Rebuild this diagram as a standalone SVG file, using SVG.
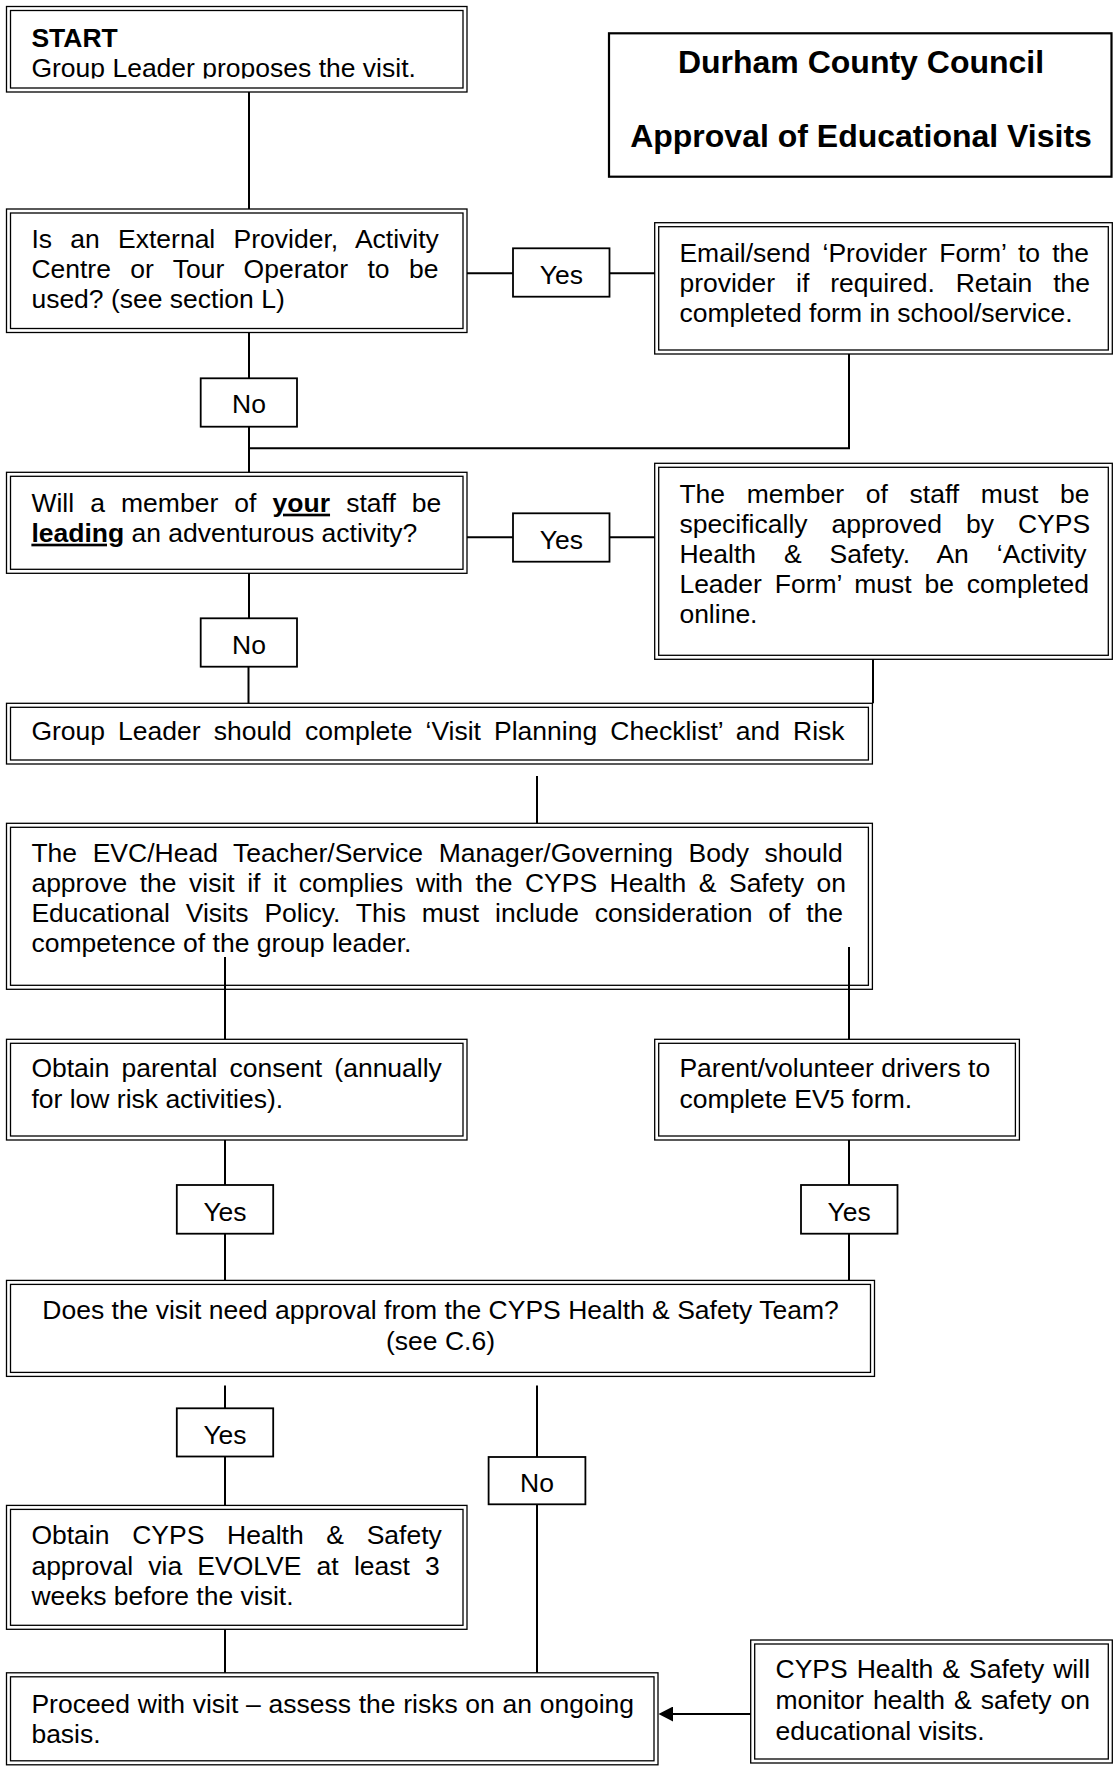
<svg xmlns="http://www.w3.org/2000/svg" width="1114" height="1768" viewBox="0 0 1114 1768">
<style>
  text { font-family: "Liberation Sans", Arial, sans-serif; font-size: 26.5px; fill: #000; }
  .b { font-weight: bold; }
  .bu { font-weight: bold; text-decoration: underline; }
  .t { font-weight: bold; font-size: 32px; text-anchor: middle; }
  .m { text-anchor: middle; }
  .ob { fill: #fff; stroke: #000; stroke-width: 1.3; }
  .ib { fill: none; stroke: #000; stroke-width: 1.3; }
  .lb { fill: #fff; stroke: #000; stroke-width: 1.8; }
  .ttl { fill: #fff; stroke: #000; stroke-width: 2.2; }
  .c line, .c path { stroke: #000; stroke-width: 2; fill: none; }
</style>
<defs>
  <clipPath id="clipStart"><rect x="0" y="0" width="1114" height="78.5"/></clipPath>
  <marker id="arr" viewBox="0 0 15 15" markerWidth="15" markerHeight="15" markerUnits="userSpaceOnUse" refX="0" refY="7.5" orient="auto">
    <path d="M0,0 L14.5,7.5 L0,15 z" fill="#000"/>
  </marker>
</defs>

<g id="start">
  <rect class="ob" x="6.5" y="6.5" width="460.5" height="85.5"/>
  <rect class="ib" x="10.5" y="10.5" width="452.5" height="77.5"/>
  <text class="b" x="31.4" y="46.7">START</text>
  <text x="31.4" y="77" clip-path="url(#clipStart)">Group Leader proposes the visit.</text>
</g>

<g id="title">
  <rect class="ttl" x="609" y="33.3" width="502.5" height="143.4"/>
  <text class="t" x="861" y="73.3">Durham County Council</text>
  <text class="t" x="861" y="146.7">Approval of Educational Visits</text>
</g>

<g id="q-provider">
  <rect class="ob" x="6.5" y="209" width="460.5" height="123.5"/>
  <rect class="ib" x="10.5" y="213" width="452.5" height="115.5"/>
  <text x="31.4" y="248.3" word-spacing="10.92">Is an External Provider, Activity</text>
  <text x="31.4" y="278.3" word-spacing="11.97">Centre or Tour Operator to be</text>
  <text x="31.4" y="308.3">used? (see section L)</text>
</g>

<g id="yes-provider">
  <rect class="lb" x="513" y="248.3" width="96.5" height="48.4"/>
  <text class="m" x="561.3" y="284">Yes</text>
</g>

<g id="provider-form">
  <rect class="ob" x="654.7" y="222.7" width="457.6" height="131.3"/>
  <rect class="ib" x="658.7" y="226.7" width="449.6" height="123.3"/>
  <text x="679.4" y="262" word-spacing="4.71">Email/send ‘Provider Form’ to the</text>
  <text x="679.4" y="292" word-spacing="13.54">provider if required. Retain the</text>
  <text x="679.4" y="322">completed form in school/service.</text>
</g>

<g id="no-provider">
  <rect class="lb" x="200.7" y="378.3" width="96.3" height="48.4"/>
  <text class="m" x="249" y="413">No</text>
</g>

<g id="q-leading">
  <rect class="ob" x="6.5" y="472.3" width="460.5" height="101"/>
  <rect class="ib" x="10.5" y="476.3" width="452.5" height="93"/>
  <text x="31.4" y="511.7" word-spacing="8.76">Will a member of <tspan class="bu">your</tspan> staff be</text>
  <text x="31.4" y="541.7"><tspan class="bu">leading</tspan> an adventurous activity?</text>
</g>

<g id="yes-leading">
  <rect class="lb" x="513" y="513.3" width="96.5" height="48.4"/>
  <text class="m" x="561.3" y="548.5">Yes</text>
</g>

<g id="activity-leader">
  <rect class="ob" x="654.7" y="463.3" width="457.6" height="196"/>
  <rect class="ib" x="658.7" y="467.3" width="449.6" height="188"/>
  <text x="679.4" y="502.7" word-spacing="14.37">The member of staff must be</text>
  <text x="679.4" y="532.7" word-spacing="16.6">specifically approved by CYPS</text>
  <text x="679.4" y="562.7" word-spacing="20.54">Health &amp; Safety. An ‘Activity</text>
  <text x="679.4" y="593" word-spacing="5.46">Leader Form’ must be completed</text>
  <text x="679.4" y="623">online.</text>
</g>

<g id="no-leading">
  <rect class="lb" x="200.7" y="618.3" width="96.3" height="48.4"/>
  <text class="m" x="249" y="654">No</text>
</g>

<g id="checklist">
  <rect class="ob" x="6.5" y="703.3" width="865.9" height="60.7"/>
  <rect class="ib" x="10.5" y="707.3" width="857.9" height="52.7"/>
  <text x="31.4" y="740" word-spacing="5.72">Group Leader should complete ‘Visit Planning Checklist’ and Risk</text>
</g>

<g id="evc-approve">
  <rect class="ob" x="6.5" y="823.3" width="865.9" height="166"/>
  <rect class="ib" x="10.5" y="827.3" width="857.9" height="158"/>
  <text x="31.4" y="862" word-spacing="8.27">The EVC/Head Teacher/Service Manager/Governing Body should</text>
  <text x="31.4" y="892" word-spacing="5.17">approve the visit if it complies with the CYPS Health &amp; Safety on</text>
  <text x="31.4" y="922" word-spacing="8.48">Educational Visits Policy. This must include consideration of the</text>
  <text x="31.4" y="952">competence of the group leader.</text>
</g>

<g id="parental-consent">
  <rect class="ob" x="6.5" y="1039.3" width="460.5" height="100.7"/>
  <rect class="ib" x="10.5" y="1043.3" width="452.5" height="92.7"/>
  <text x="31.4" y="1077" word-spacing="4.73">Obtain parental consent (annually</text>
  <text x="31.4" y="1107.5">for low risk activities).</text>
</g>

<g id="drivers">
  <rect class="ob" x="654.7" y="1039.3" width="364.7" height="100.7"/>
  <rect class="ib" x="658.7" y="1043.3" width="356.7" height="92.7"/>
  <text x="679.4" y="1077">Parent/volunteer drivers to</text>
  <text x="679.4" y="1107.5">complete EV5 form.</text>
</g>

<g id="yes-consent">
  <rect class="lb" x="176.8" y="1185" width="96.4" height="48.7"/>
  <text class="m" x="225" y="1221">Yes</text>
</g>

<g id="yes-drivers">
  <rect class="lb" x="801" y="1185" width="96.5" height="48.7"/>
  <text class="m" x="849.2" y="1221">Yes</text>
</g>

<g id="q-cyps">
  <rect class="ob" x="6.5" y="1280.4" width="868" height="96"/>
  <rect class="ib" x="10.5" y="1284.4" width="860" height="88"/>
  <text class="m" x="440.5" y="1319">Does the visit need approval from the CYPS Health &amp; Safety Team?</text>
  <text class="m" x="440.5" y="1350">(see C.6)</text>
</g>

<g id="yes-cyps">
  <rect class="lb" x="176.8" y="1408.3" width="96.4" height="48.2"/>
  <text class="m" x="225" y="1443.5">Yes</text>
</g>

<g id="no-cyps">
  <rect class="lb" x="488.6" y="1457" width="96.8" height="47.3"/>
  <text class="m" x="537" y="1492">No</text>
</g>

<g id="evolve">
  <rect class="ob" x="6.5" y="1505.4" width="460.5" height="123.9"/>
  <rect class="ib" x="10.5" y="1509.4" width="452.5" height="115.9"/>
  <text x="31.4" y="1544" word-spacing="15.33">Obtain CYPS Health &amp; Safety</text>
  <text x="31.4" y="1574.5" word-spacing="7.84">approval via EVOLVE at least 3</text>
  <text x="31.4" y="1605">weeks before the visit.</text>
</g>

<g id="proceed">
  <rect class="ob" x="6.5" y="1672.8" width="651.5" height="92"/>
  <rect class="ib" x="10.5" y="1676.8" width="643.5" height="84"/>
  <text x="31.4" y="1713" word-spacing="0.35">Proceed with visit – assess the risks on an ongoing</text>
  <text x="31.4" y="1742.5">basis.</text>
</g>

<g id="monitor">
  <rect class="ob" x="750.7" y="1640" width="361.6" height="123"/>
  <rect class="ib" x="754.7" y="1644" width="353.6" height="115"/>
  <text x="775.5" y="1678" word-spacing="1.68">CYPS Health &amp; Safety will</text>
  <text x="775.5" y="1709" word-spacing="1.66">monitor health &amp; safety on</text>
  <text x="775.5" y="1740">educational visits.</text>
</g>

<g id="connectors" class="c">
  <line x1="249" y1="92" x2="249" y2="209"/>
  <line x1="467" y1="273.3" x2="513" y2="273.3"/>
  <line x1="609.5" y1="273.3" x2="654.7" y2="273.3"/>
  <line x1="249" y1="332.5" x2="249" y2="378.3"/>
  <line x1="249" y1="426.7" x2="249" y2="472.3"/>
  <path d="M849,354 V448.3 H249"/>
  <line x1="467" y1="537.3" x2="513" y2="537.3"/>
  <line x1="609.5" y1="537.3" x2="654.7" y2="537.3"/>
  <line x1="249" y1="573.3" x2="249" y2="618.3"/>
  <line x1="248.5" y1="666.7" x2="248.5" y2="703.3"/>
  <line x1="873" y1="659.3" x2="873" y2="703.3"/>
  <line x1="537" y1="776" x2="537" y2="823.3"/>
  <line x1="225" y1="957" x2="225" y2="1039.3"/>
  <line x1="849" y1="947" x2="849" y2="1039.3"/>
  <line x1="225" y1="1140" x2="225" y2="1185"/>
  <line x1="225" y1="1233.7" x2="225" y2="1280.4"/>
  <line x1="849" y1="1140" x2="849" y2="1185"/>
  <line x1="849" y1="1233.7" x2="849" y2="1280.4"/>
  <line x1="225" y1="1385.5" x2="225" y2="1408.3"/>
  <line x1="225" y1="1456.5" x2="225" y2="1505.4"/>
  <line x1="537" y1="1385.5" x2="537" y2="1457"/>
  <line x1="537" y1="1504.3" x2="537" y2="1672.8"/>
  <line x1="225" y1="1629.3" x2="225" y2="1672.8"/>
  <line x1="750.7" y1="1714" x2="673" y2="1714" marker-end="url(#arr)"/>
</g>
</svg>
